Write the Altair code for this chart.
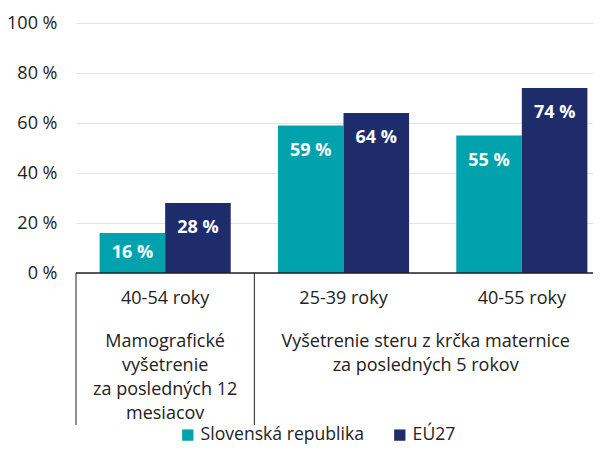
import altair as alt
import pandas as pd

categories = ["40-54 roky", "25-39 roky", "40-55 roky"]
series = ["Slovenská republika", "EÚ27"]
sr_values = [16, 59, 55]
eu_values = [28, 64, 74]
colors = ["#00a3ad", "#1e2c6b"]
y_ticks = [0, 20, 40, 60, 80, 100]
group1_label = "Mamografické\nvyšetrenie\nza posledných 12\nmesiacov"
group2_label = "Vyšetrenie steru z krčka maternice\nza posledných 5 rokov"
separator_cats = ["40-54 roky", "25-39 roky"]

rows = []
for c, a, b in zip(categories, sr_values, eu_values):
    rows.append({"cat": c, "series": series[0], "value": a})
    rows.append({"cat": c, "series": series[1], "value": b})
df = pd.DataFrame(rows)

FONT = "Open Sans"
W = 517
H = 250
FS = 18

x_scale = alt.Scale(domain=categories, range=[0, 535], paddingInner=0, paddingOuter=0)
x_enc = alt.X("cat:N", scale=x_scale, sort=categories,
              axis=alt.Axis(title=None, ticks=False, labelPadding=16, labelFontSize=FS,
                            labelColor="#222222", domain=False,
                            labelAngle=0, grid=False))
xo_enc = alt.XOffset("series:N", sort=series,
                     scale=alt.Scale(domain=series, paddingInner=0, paddingOuter=0.36))
y_enc = alt.Y("value:Q", scale=alt.Scale(domain=[0, 100]),
              axis=alt.Axis(title=None, values=y_ticks, labelExpr="datum.value + ' %'",
                            ticks=False, domain=False, labelPadding=19, labelFontSize=FS,
                            labelColor="#222222", gridColor="#e3e3e3", gridWidth=1))

base = alt.Chart(df)

bars = base.mark_bar().encode(
    x=x_enc, xOffset=xo_enc, y=y_enc,
    color=alt.Color("series:N", sort=series,
                    scale=alt.Scale(domain=series, range=colors),
                    legend=alt.Legend(title=None, orient="none", legendX=103, legendY=403,
                                      padding=0, direction="horizontal", symbolType="square",
                                      symbolSize=128, symbolStrokeWidth=0, labelFontSize=17.6,
                                      labelColor="#222222", labelOffset=4, columnPadding=27,
                                      labelLimit=400)),
)

labels = base.transform_calculate(
    ly="max(datum.value - 10, datum.value / 2)",
    lt="datum.value + ' %'",
).mark_text(color="white", fontWeight="bold", fontSize=FS, baseline="middle").encode(
    x=alt.X("cat:N", scale=x_scale, sort=categories),
    xOffset=xo_enc,
    y=alt.Y("ly:Q", scale=alt.Scale(domain=[0, 100])),
    text="lt:N",
)

baseline = alt.Chart(pd.DataFrame({"v": [0]})).mark_rule(color="#222222", strokeWidth=1.5).encode(
    x=alt.value(0), x2=alt.value(W), y=alt.value(H),
)

sep_df = pd.DataFrame({"cat": separator_cats})
seps = alt.Chart(sep_df).mark_rule(color="#222222", strokeWidth=1).encode(
    x=alt.X("cat:N", scale=x_scale, sort=categories, bandPosition=0),
    y=alt.value(H),
    y2=alt.value(H + 152),
)

g1 = alt.Chart(pd.DataFrame({"cat": [categories[0]], "t": [group1_label]})).mark_text(
    lineBreak="\n", lineHeight=24, fontSize=FS, color="#222222", baseline="top", align="center"
).encode(
    x=alt.X("cat:N", scale=x_scale, sort=categories),
    y=alt.value(H + 60),
    text="t:N",
)

g2 = alt.Chart(pd.DataFrame({"cat": [categories[2]], "t": [group2_label]})).mark_text(
    lineBreak="\n", lineHeight=24, fontSize=FS, color="#222222", baseline="top", align="center", dx=-7
).encode(
    x=alt.X("cat:N", scale=x_scale, sort=categories, bandPosition=0),
    y=alt.value(H + 60),
    text="t:N",
)

chart = alt.layer(bars, labels, baseline, seps, g1, g2).properties(
    width=W, height=H,
    autosize=alt.AutoSizeParams(type="none"),
    padding={"left": 68, "top": 15, "right": 0, "bottom": 174},
).configure(font=FONT).configure_view(stroke=None)

chart.save("out.html", embed_options={"renderer": "svg", "actions": False})
